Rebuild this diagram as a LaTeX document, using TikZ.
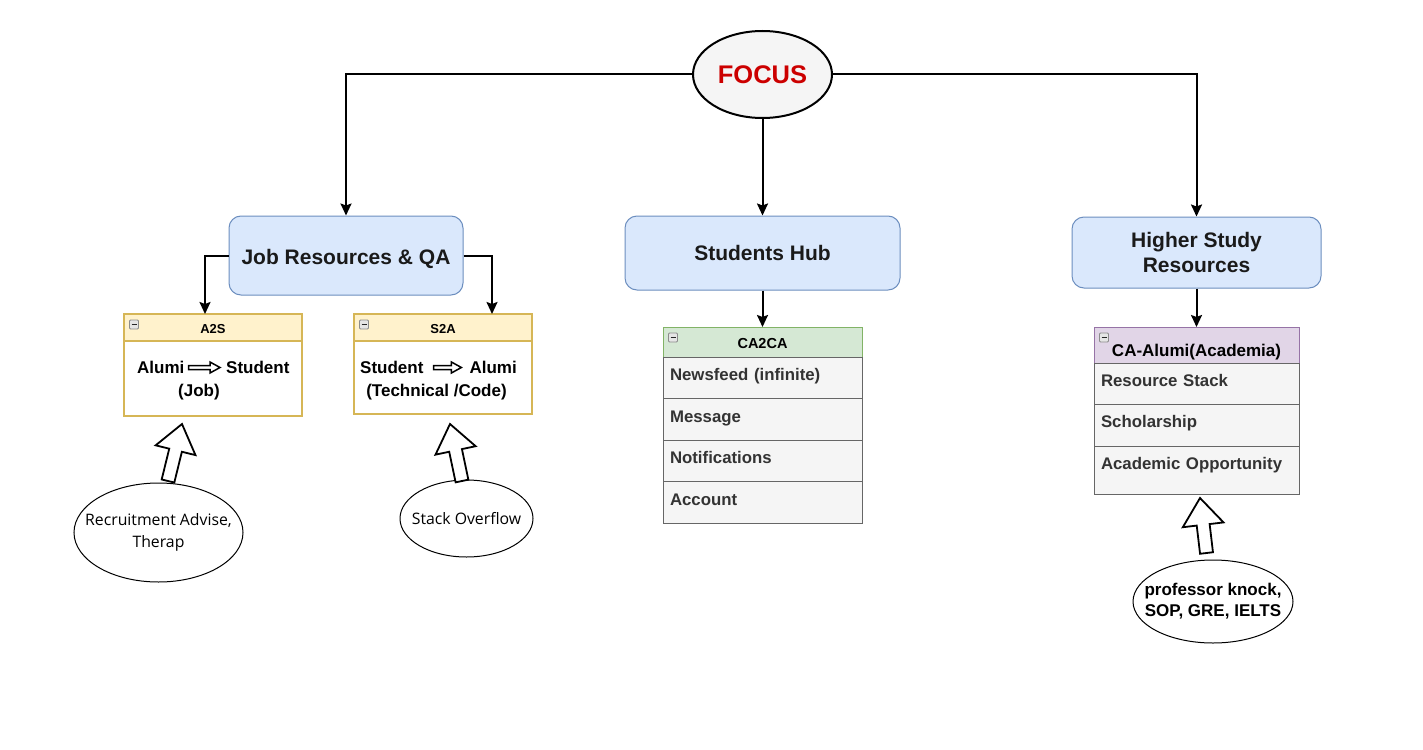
\documentclass[tikz,border=0pt]{standalone}
\usepackage{fontspec}
\setmainfont{Liberation Sans}
\newfontfamily\segoe{Open Sans}
\usetikzlibrary{positioning, calc, arrows.meta, shapes.geometric}

\definecolor{hubfill}{HTML}{DAE8FC}
\definecolor{hubline}{HTML}{6C8EBF}
\definecolor{yelfill}{HTML}{FFF2CC}
\definecolor{yelline}{HTML}{D6B656}
\definecolor{grnfill}{HTML}{D5E8D4}
\definecolor{grnline}{HTML}{82B366}
\definecolor{purfill}{HTML}{E1D5E7}
\definecolor{purline}{HTML}{9673A6}
\definecolor{rowfill}{HTML}{F5F5F5}
\definecolor{rowline}{HTML}{666666}
\definecolor{rowtext}{HTML}{333333}
\definecolor{textdark}{HTML}{1A1A1A}
\definecolor{focusfill}{HTML}{F5F5F5}
\definecolor{focusred}{HTML}{CC0000}

% hollow block arrow: style, tail, tip, shaft half width, head half width, head length
\newcommand{\hollowarrow}[6]{%
  \draw[#1] ($(#2)!#4pt!90:(#3)$) -- ($(#3)!#6pt!(#2)!#4pt!90:(#3)$)
    -- ($(#3)!#6pt!(#2)!#5pt!90:(#3)$) -- (#3)
    -- ($(#3)!#6pt!(#2)!#5pt!-90:(#3)$) -- ($(#3)!#6pt!(#2)!#4pt!-90:(#3)$)
    -- ($(#2)!#4pt!-90:(#3)$) -- cycle;
}

\begin{document}
\begin{tikzpicture}[x=1pt, y=-1pt,
    conn/.style={line width=2pt, -{Stealth[length=12pt, width=11pt, inset=2pt]}},
    hub/.style={draw=hubline, fill=hubfill, line width=1pt, rounded corners=12pt,
        inner sep=0pt, align=center, text=textdark,
        font=\bfseries\fontsize{21}{25}\selectfont},
    oval/.style={ellipse, draw, line width=1pt, inner xsep=-20pt, inner ysep=0pt, align=center},
    head/.style={draw=#1line, fill=#1fill, inner sep=0pt, outer sep=0pt,
        font=\bfseries\fontsize{13}{15}\selectfont},
    yelbody/.style={draw=yelline, fill=white, line width=2pt, inner sep=0pt,
        outer sep=0pt, minimum width=178pt},
    row/.style={draw=rowline, fill=rowfill, line width=1pt, outer sep=0pt,
        inner xsep=7pt, inner ysep=0pt, align=left, text=rowtext,
        text height=23.5pt, text depth=#1,
        font=\bfseries\fontsize{16.8}{20}\selectfont},
    word/.style={inner sep=0pt, font=\bfseries\fontsize{17}{20}\selectfont},
    collapse/.style={draw=gray!90, fill=gray!20, rounded corners=1pt,
        minimum size=9pt, inner sep=0pt, line width=0.8pt,
        path picture={\draw[line width=1pt, gray!30!black]
            ([xshift=2pt]path picture bounding box.west) --
            ([xshift=-2pt]path picture bounding box.east);}},
    bigarrow/.style={draw, fill=white, line width=1.8pt},
    smallarrow/.style={draw, fill=white, line width=1.5pt}]

    \fill[white] (0,0) rectangle (1423,749);
    \useasboundingbox (0,0) rectangle (1423,749);

    % top level
    \node[oval, line width=2pt, fill=focusfill, minimum width=139pt, minimum height=87pt,
        text=focusred, font=\bfseries\fontsize{25.5}{30}\selectfont] (focus) at (762.5,74.5) {FOCUS};
    \node[hub, minimum width=234pt, minimum height=79pt, text height=48pt, text depth=31pt]
        (job) at (346,255.5) {Job Resources \& QA};
    \node[hub, minimum width=275pt, minimum height=74pt] (hub) at (762.5,253) {Students Hub};
    \node[hub, minimum width=249pt, minimum height=71pt] (higher) at (1196.5,252.5) {Higher Study\\Resources};

    \draw[conn] (focus.west) -| (job.north);
    \draw[conn] (focus.east) -| (higher.north);
    \draw[conn] (focus.south) -- (hub.north);

    % A2S / S2A
    \node[head=yel, line width=2pt, minimum width=178pt, minimum height=27pt,
        text height=19pt, text depth=8pt] (a2s) at (213,327.5) {A2S};
    \node[yelbody, minimum height=75pt, below=0pt of a2s] (a2sbody) {};
    \node[head=yel, line width=2pt, minimum width=178pt, minimum height=27pt,
        text height=19pt, text depth=8pt] (s2a) at (443,327.5) {S2A};
    \node[yelbody, minimum height=73pt, below=0pt of s2a] (s2abody) {};

    \draw[conn] (job.west) -| ([xshift=-8pt]a2s.north);
    \draw[conn] (job.east) -| ([xshift=49pt]s2a.north);

    \node[word, anchor=base west] (a2sfrom) at (137,373) {Alumi};
    \node[word, anchor=base west] (a2sto) at (226,373) {Student};
    \node[word, anchor=base] (a2snote) at (199,396) {(Job)};
    \node[word, anchor=base west] (s2afrom) at (360,373) {Student};
    \node[word, anchor=base east] (s2ato) at (517,373) {Alumi};
    \node[word, anchor=base] (s2anote) at (436.5,396) {(Technical /Code)};

    \coordinate (a2sarrtail) at ([xshift=4pt, yshift=5.5pt]a2sfrom.base east);
    \coordinate (a2sarrtip) at ([xshift=-6pt, yshift=5.5pt]a2sto.base west);
    \coordinate (s2aarrtail) at ([xshift=10pt, yshift=5.5pt]s2afrom.base east);
    \coordinate (s2aarrtip) at ([xshift=-8pt, yshift=5.5pt]s2ato.base west);
    \hollowarrow{smallarrow}{a2sarrtail}{a2sarrtip}{2}{5.5}{10}
    \hollowarrow{smallarrow}{s2aarrtail}{s2aarrtip}{2}{5.5}{10}

    % CA2CA
    \node[head=grn, line width=1pt, minimum width=199pt, minimum height=30pt,
        text height=21.3pt, text depth=8.7pt, font=\bfseries\fontsize{14.5}{17}\selectfont,
        alias=ca2ca-0] (ca2ca) at (762.5,342) {CA2CA};
    \draw[conn] (hub.south) -- (ca2ca.north);
    \foreach \txt [count=\i, remember=\i as \j (initially 0)] in
        {Newsfeed (infinite), Message, Notifications, Account}
        \node[row=18pt, text width=185pt, below=0pt of ca2ca-\j] (ca2ca-\i) {\txt};

    % CA-Alumi
    \node[head=pur, line width=1pt, minimum width=205pt, minimum height=36pt,
        text height=29.7pt, text depth=6.3pt, font=\bfseries\fontsize{17}{20}\selectfont,
        alias=caa-0] (caa) at (1196.5,345) {CA-Alumi(Academia)};
    \draw[conn] (higher.south) -- (caa.north);
    \foreach \txt/\d [count=\i, remember=\i as \j (initially 0)] in
        {Resource Stack/17.5pt, Scholarship/18.5pt, Academic Opportunity/24.5pt}
        \node[row=\d, text width=191pt, below=0pt of caa-\j] (caa-\i) {\txt};

    % collapse icons
    \foreach \h in {a2s, s2a, ca2ca, caa}
        \node[collapse] (\h-icon) at ([xshift=10pt, yshift=-10.5pt]\h.north west) {};

    % sources
    \node[oval, minimum width=169pt, minimum height=99pt,
        font=\segoe\fontsize{15.8}{22}\selectfont] (rec) at (158.5,532.5) {Recruitment Advise,\\Therap};
    \node[oval, minimum width=133pt, minimum height=77pt,
        font=\segoe\fontsize{15.8}{22}\selectfont] (so) at (466.5,518.5) {Stack Overflow};
    \node[oval, minimum width=160pt, minimum height=83pt,
        font=\bfseries\fontsize{17}{21}\selectfont] (prof) at (1213,601.5) {professor knock,\\SOP, GRE, IELTS};

    \coordinate (rectail) at (168,481);
    \coordinate (rectip) at (182,424);
    \coordinate (sotail) at (462,481);
    \coordinate (sotip) at (450,424);
    \coordinate (proftail) at (1206.5,553);
    \coordinate (proftip) at (1200,498);
    \foreach \t in {rec, so, prof}{
        \hollowarrow{bigarrow}{\t tail}{\t tip}{6.5}{20.5}{27}
    }
\end{tikzpicture}
\end{document}
